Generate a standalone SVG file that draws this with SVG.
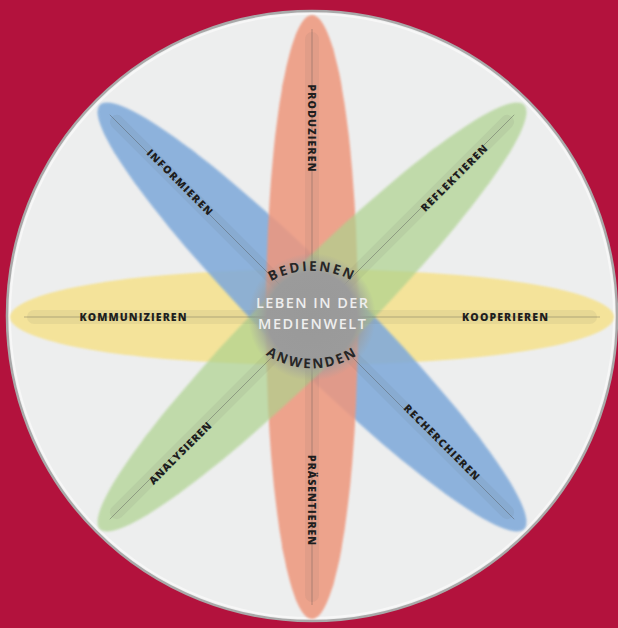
<svg xmlns="http://www.w3.org/2000/svg" width="618" height="628" viewBox="0 0 618 628">
  <defs>
    <filter id="soft" x="-10%" y="-10%" width="120%" height="120%">
      <feGaussianBlur stdDeviation="1.3"/>
    </filter>
    <radialGradient id="hub" cx="0.5" cy="0.5" r="0.5">
      <stop offset="0" stop-color="#999999" stop-opacity="1"/>
      <stop offset="0.7" stop-color="#9b9b9b" stop-opacity="1"/>
      <stop offset="1" stop-color="#a0a0a0" stop-opacity="0"/>
    </radialGradient>
    <path id="arcTop" d="M 232,327 A 85,85 0 0 1 392,327"/>
    <path id="arcBottom" d="M 232,312 A 85,85 0 0 0 392,312"/>
  </defs>
  <style>
    .petal { filter: url(#soft); }
    .band { fill: #5e5e5e; opacity: 0.08; }
    .axis { stroke: #4a4a4a; stroke-width: 0.9; opacity: 0.4; fill: none; }
    .lbl { font-family: "Open Sans", "Liberation Sans", sans-serif; font-weight: 800; font-size: 10.5px; fill: #1e1e1e; text-anchor: middle; dominant-baseline: central; }
    .arc { font-family: "Open Sans", "Liberation Sans", sans-serif; font-weight: 700; font-size: 13.5px; fill: #262626; letter-spacing: 2.2px; text-anchor: middle; }
    .hubtxt { font-family: "Open Sans", "Liberation Sans", sans-serif; font-weight: 600; font-size: 14.5px; fill: #eeeeee; text-anchor: middle; }
  </style>

  <rect x="0" y="0" width="618" height="628" fill="#B3123D"/>

  <g id="disc">
    <circle cx="312" cy="316" r="305" fill="#EDEEEE" stroke="#A9A9A9" stroke-width="2.5"/>
    <circle cx="312" cy="316" r="302" fill="none" stroke="#F7F7F7" stroke-width="2"/>
  </g>

  <g id="petals">
    <ellipse id="petal-yellow" class="petal" cx="0" cy="0" rx="302" ry="48" fill="#F5E291" opacity="0.9" transform="translate(312,317)"/>
    <ellipse id="petal-blue" class="petal" cx="0" cy="0" rx="300" ry="45" fill="#80AADA" opacity="0.88" transform="translate(312,317) rotate(45)"/>
    <ellipse id="petal-orange" class="petal" cx="0" cy="0" rx="302" ry="46" fill="#EE977D" opacity="0.86" transform="translate(312,317) rotate(90)"/>
    <ellipse id="petal-green" class="petal" cx="0" cy="0" rx="300" ry="45" fill="#ADD28E" opacity="0.7" transform="translate(312,317) rotate(-45)"/>
  </g>

  <g id="connectors">
    <g transform="translate(312,317)">
      <rect class="band" x="-285" y="-7" width="570" height="14" rx="7"/>
      <line class="axis" x1="-288" y1="0" x2="288" y2="0"/>
    </g>
    <g transform="translate(312,317) rotate(90)">
      <rect class="band" x="-285" y="-7" width="570" height="14" rx="7"/>
      <line class="axis" x1="-288" y1="0" x2="288" y2="0"/>
    </g>
    <g transform="translate(312,317) rotate(45)">
      <rect class="band" x="-283" y="-7" width="566" height="14" rx="7"/>
      <line class="axis" x1="-286" y1="0" x2="286" y2="0"/>
    </g>
    <g transform="translate(312,317) rotate(-45)">
      <rect class="band" x="-283" y="-7" width="566" height="14" rx="7"/>
      <line class="axis" x1="-286" y1="0" x2="286" y2="0"/>
    </g>
  </g>

  <g id="hub">
    <circle cx="312" cy="317" r="64" fill="url(#hub)"/>
    <text class="arc"><textPath href="#arcTop" startOffset="50%">BEDIENEN</textPath></text>
    <text class="arc"><textPath href="#arcBottom" startOffset="50%">ANWENDEN</textPath></text>
    <text class="hubtxt" x="312" y="308" textLength="112" lengthAdjust="spacing">LEBEN IN DER</text>
    <text class="hubtxt" x="312" y="329" textLength="108" lengthAdjust="spacing">MEDIENWELT</text>
  </g>

  <g id="node-kommunizieren"><text class="lbl" x="133" y="317" textLength="107" lengthAdjust="spacing">KOMMUNIZIEREN</text></g>
  <g id="node-kooperieren"><text class="lbl" x="505" y="317" textLength="86" lengthAdjust="spacing">KOOPERIEREN</text></g>
  <g id="node-produzieren"><text class="lbl" x="0" y="0" textLength="87" lengthAdjust="spacing" transform="translate(312,128) rotate(90)">PRODUZIEREN</text></g>
  <g id="node-praesentieren"><text class="lbl" x="0" y="0" textLength="90" lengthAdjust="spacing" transform="translate(312,500) rotate(90)">PRÄSENTIEREN</text></g>
  <g id="node-informieren"><text class="lbl" x="0" y="0" textLength="88" lengthAdjust="spacing" transform="translate(180,182) rotate(45)">INFORMIEREN</text></g>
  <g id="node-recherchieren"><text class="lbl" x="0" y="0" textLength="102" lengthAdjust="spacing" transform="translate(442,442) rotate(45)">RECHERCHIEREN</text></g>
  <g id="node-reflektieren"><text class="lbl" x="0" y="0" textLength="89" lengthAdjust="spacing" transform="translate(454,178) rotate(-45)">REFLEKTIEREN</text></g>
  <g id="node-analysieren"><text class="lbl" x="0" y="0" textLength="83" lengthAdjust="spacing" transform="translate(180,453) rotate(-45)">ANALYSIEREN</text></g>
</svg>
